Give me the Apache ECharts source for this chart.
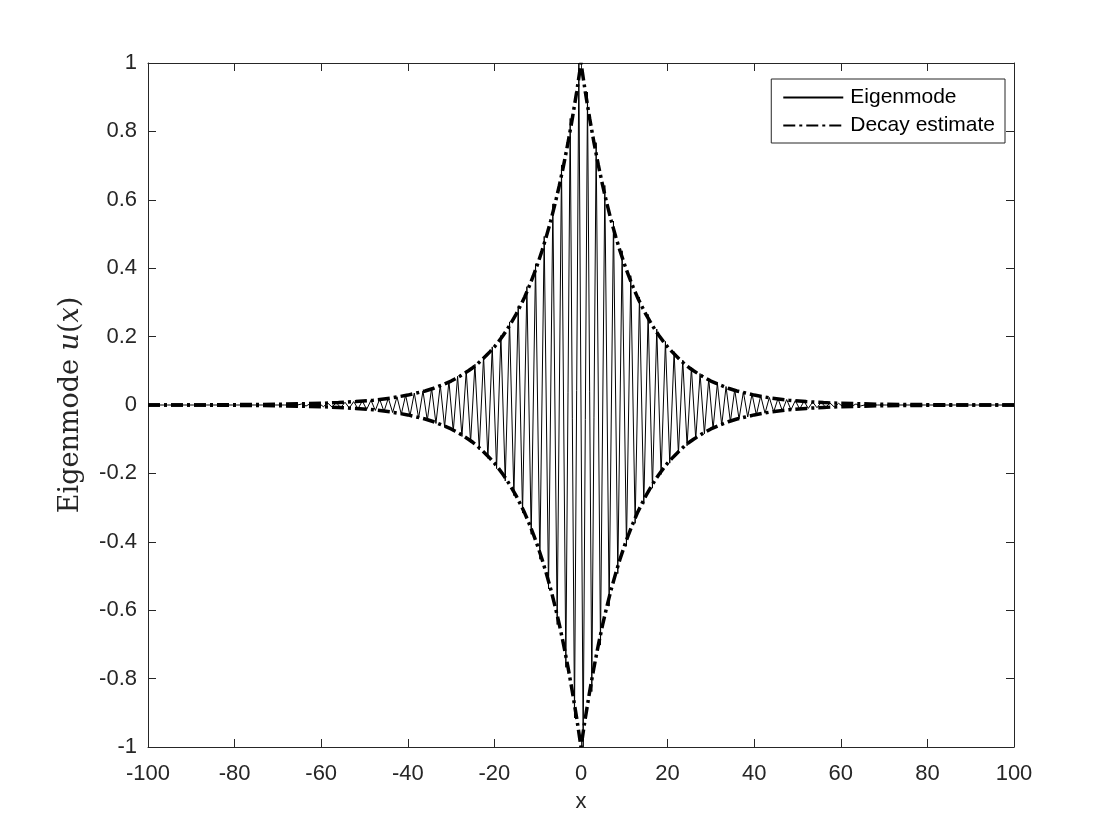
<!DOCTYPE html>
<html>
<head>
<meta charset="utf-8">
<script src="https://cdn.jsdelivr.net/npm/echarts@6/dist/echarts.min.js"></script>
<style>
html,body{margin:0;padding:0;background:#fff;}
#chart{width:1120px;height:840px;}
</style>
</head>
<body>
<div id="chart"></div>
<script>
// Axis ticks
const xTicks = [-100, -80, -60, -40, -20, 0, 20, 40, 60, 80, 100];
const yTicks = [-1, -0.8, -0.6, -0.4, -0.2, 0, 0.2, 0.4, 0.6, 0.8, 1];

// Eigenmode: lattice sites at half-integers; amplitude |u| at distance 0.5, 1.5, 2.5 ... from the centre
// (read from the spike heights); sign alternates site to site, +1 at x = -0.5, -1 at x = +0.5.
const eigenAmp = [
  1.000, 0.915, 0.838, 0.767, 0.702, 0.642, 0.588, 0.538, 0.493, 0.451,
  0.413, 0.378, 0.346, 0.316, 0.290, 0.265, 0.243, 0.222, 0.203, 0.186,
  0.170, 0.156, 0.143, 0.131, 0.119, 0.109, 0.100, 0.092, 0.084, 0.077,
  0.070, 0.064, 0.059, 0.054, 0.049, 0.045, 0.041, 0.038, 0.035, 0.032,
  0.029, 0.027, 0.024, 0.022, 0.020, 0.019, 0.017, 0.016, 0.014, 0.013,
  0.012, 0.011, 0.010, 0.009, 0.008, 0.008, 0.007, 0.006, 0.006, 0.005,
  0.005, 0.004, 0.004, 0.003, 0.003
];

// Decay estimate envelope (positive side; mirrored for x<0 and for the lower curve)
const decayX = [0, 1, 2, 3, 4, 5, 6, 7, 8, 9, 10, 11, 12, 13, 14, 15, 16, 17, 18, 19, 20,
  21, 22, 23, 24, 25, 26, 27, 28, 29, 30, 32, 34, 36, 38, 40, 44, 48, 52, 56, 60, 70, 80, 90, 100];
const decayY = [1.000, 0.915, 0.838, 0.767, 0.702, 0.642, 0.588, 0.538, 0.493, 0.451, 0.413,
  0.378, 0.346, 0.316, 0.290, 0.265, 0.243, 0.222, 0.203, 0.186, 0.170,
  0.156, 0.143, 0.131, 0.119, 0.109, 0.100, 0.092, 0.084, 0.077, 0.070,
  0.059, 0.049, 0.041, 0.035, 0.029, 0.020, 0.014, 0.010, 0.007, 0.005, 0.002, 0.001, 0.000, 0.000];

// Build series data
const eigenData = [];
for (let k = -99; k <= 100; k++) {
  const x = k - 0.5;
  const d = Math.abs(x);
  const idx = Math.round(d - 0.5);
  const amp = idx < eigenAmp.length ? eigenAmp[idx] : 0;
  const sign = (Math.abs(k) % 2 === 0) ? 1 : -1;
  eigenData.push([x, sign * amp]);
}
const decayUpper = [], decayLower = [];
for (let i = decayX.length - 1; i >= 1; i--) {
  decayUpper.push([-decayX[i], decayY[i]]);
  decayLower.push([-decayX[i], -decayY[i]]);
}
for (let i = 0; i < decayX.length; i++) {
  decayUpper.push([decayX[i], decayY[i]]);
  decayLower.push([decayX[i], -decayY[i]]);
}

const axisColor = '#262626';
const sansFont = 'Liberation Sans, Arial, Helvetica, sans-serif';
const labelFont = { color: axisColor, fontSize: 22, fontFamily: sansFont };
const dash = [12, 4, 3, 4];
const hiddenSymbol = { color: 'rgba(0,0,0,0)', borderWidth: 0, opacity: 0 };

const chart = echarts.init(document.getElementById('chart'), null, { renderer: 'canvas' });
chart.setOption({
  backgroundColor: '#ffffff',
  animation: false,
  grid: { left: 148, right: 106, top: 63, bottom: 93, containLabel: false },
  legend: {
    orient: 'vertical',
    right: 115,
    top: 79,
    data: [
      { name: 'Eigenmode', itemStyle: hiddenSymbol },
      { name: 'Decay estimate', itemStyle: hiddenSymbol }
    ],
    backgroundColor: '#ffffff',
    borderColor: '#262626',
    borderWidth: 1,
    borderRadius: 0,
    padding: [8, 10, 7, 11],
    itemGap: 7,
    itemWidth: 60,
    itemHeight: 20,
    textStyle: { color: '#000', fontSize: 21, fontFamily: sansFont, padding: [0, 0, 0, 2] }
  },
  xAxis: [{
    type: 'value', min: -100, max: 100, interval: 20,
    name: 'x', nameLocation: 'middle', nameGap: 44,
    nameTextStyle: { color: axisColor, fontSize: 22, fontFamily: sansFont },
    axisLine: { show: true, onZero: false, lineStyle: { color: axisColor, width: 1 } },
    axisTick: { show: true, inside: true, length: 8, lineStyle: { color: axisColor } },
    axisLabel: Object.assign({ margin: 16 }, labelFont),
    splitLine: { show: false }
  }, {
    type: 'value', min: -100, max: 100, interval: 20, position: 'top',
    axisLine: { show: true, onZero: false, lineStyle: { color: axisColor, width: 1 } },
    axisTick: { show: true, inside: true, length: 8, lineStyle: { color: axisColor } },
    axisLabel: { show: false },
    splitLine: { show: false }
  }],
  yAxis: [{
    type: 'value', min: -1, max: 1, interval: 0.2,
    name: '{a|Eigenmode }{b|u}{a|(}{b|x}{a|)}', nameLocation: 'middle', nameGap: 64, nameRotate: 90,
    nameTextStyle: {
      rich: {
        a: { fontSize: 27, color: axisColor, fontFamily: 'DejaVu Serif, Liberation Serif, serif' },
        b: { fontSize: 27, color: axisColor, fontStyle: 'italic', fontFamily: 'DejaVu Serif, Liberation Serif, serif' }
      }
    },
    axisLine: { show: true, onZero: false, lineStyle: { color: axisColor, width: 1 } },
    axisTick: { show: true, inside: true, length: 8, lineStyle: { color: axisColor } },
    axisLabel: Object.assign({ margin: 11, formatter: function (v) { return String(Math.round(v * 10) / 10); } }, labelFont),
    splitLine: { show: false }
  }, {
    type: 'value', min: -1, max: 1, interval: 0.2, position: 'right',
    axisLine: { show: true, onZero: false, lineStyle: { color: axisColor, width: 1 } },
    axisTick: { show: true, inside: true, length: 8, lineStyle: { color: axisColor } },
    axisLabel: { show: false },
    splitLine: { show: false }
  }],
  series: [{
    name: 'Eigenmode', type: 'line', data: eigenData,
    xAxisIndex: 0, yAxisIndex: 0,
    symbol: 'none', sampling: null, smooth: false,
    lineStyle: { color: '#000', width: 1 },
    itemStyle: { color: '#000' },
    z: 2
  }, {
    name: 'Decay estimate', type: 'line', data: decayUpper,
    xAxisIndex: 0, yAxisIndex: 0,
    symbol: 'none', smooth: false,
    lineStyle: { color: '#000', width: 3.5, type: dash },
    itemStyle: { color: '#000' },
    z: 3
  }, {
    name: 'Decay estimate', type: 'line', data: decayLower,
    xAxisIndex: 0, yAxisIndex: 0,
    symbol: 'none', smooth: false,
    lineStyle: { color: '#000', width: 3.5, type: dash },
    itemStyle: { color: '#000' },
    z: 3
  }]
});
</script>
</body>
</html>
